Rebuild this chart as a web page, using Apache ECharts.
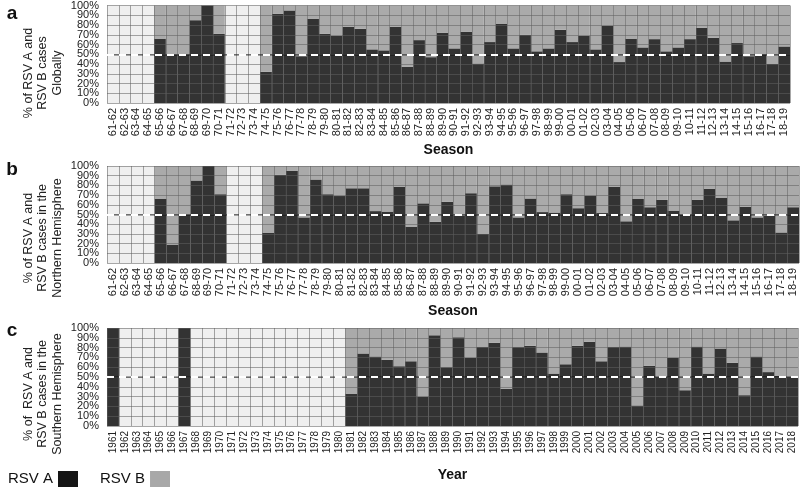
<!DOCTYPE html>
<html>
<head>
<meta charset="utf-8">
<script src="https://cdn.jsdelivr.net/npm/echarts@6/dist/echarts.min.js"></script>
<style>html,body{margin:0;padding:0;background:#fff}#c{width:800px;height:492px}</style>
</head>
<body>
<div id="c"></div>
<script>
// Categories
var seasons = ['61-62','62-63','63-64','64-65','65-66','66-67','67-68','68-69','69-70','70-71','71-72','72-73','73-74','74-75','75-76','76-77','77-78','78-79','79-80','80-81','81-82','82-83','83-84','84-85','85-86','86-87','87-88','88-89','89-90','90-91','91-92','92-93','93-94','94-95','95-96','96-97','97-98','98-99','99-00','00-01','01-02','02-03','03-04','04-05','05-06','06-07','07-08','08-09','09-10','10-11','11-12','12-13','13-14','14-15','15-16','16-17','17-18','18-19'];
var years = [];
for (var y = 1961; y <= 2018; y++) years.push(String(y));

// % RSV A (null = no data); RSV B is the remaining share of 100%
var globalA = [null,null,null,null,66,50,50,85,100,71,null,null,null,32,91.5,95,48,86.5,71,69,78,76,55,54,78,37,64.5,47,72,56,73,40.5,62.5,81,56,70,53,56,75,62.5,69,55,79,42,66,57,65.5,53,57,65.5,77,67,42.5,61.5,48,50,40,58];
var northA = [null,null,null,null,66,19,49.5,85,100,71,null,null,null,31,91,95,47,86,71,69,77,77,53.5,53,78.5,37.5,61.5,42.5,63,49,72,30,79,81,47,66.5,52.5,52,71,56.5,69.5,51.5,78.5,43,66,57.5,65,54,49.5,65,76.5,67,44,58,47,48.5,31.5,57.5];
var southA = [100,null,null,null,null,null,100,null,null,null,null,null,null,null,null,null,null,null,null,null,33,74,71,67.5,61,66,30,92.5,60,90.5,69.5,80.5,85,38,80.5,82,75,53.5,63,82,86,66,80.5,81,21,61.5,50,69.5,36.5,81,53.5,79,64.5,31.5,71,55,51,50];

var yTicks = [0,10,20,30,40,50,60,70,80,90,100];
var yMin = yTicks[0], yMax = yTicks[yTicks.length-1];

function comp(arr){ return arr.map(function(v){ return v == null ? null : 100 - v; }); }

var FONT = 'Liberation Sans, Arial, sans-serif';
var gridLine = {show:true, lineStyle:{color:'rgba(95,95,95,0.55)', width:1}};

var grids = [
  {left:107, right:10, top:4, height:99},
  {left:107, right:1, top:166, height:97},
  {left:107, right:2, top:328, height:98}
];
var cats = [seasons, seasons, years];
var names = ['Season','Season','Year'];
var dataA = [globalA, northA, southA];
var labelSize = [11, 11, 10];

var yAxes = [];
// main axes: inner tick labels + split lines
cats.forEach(function(c,i){
  yAxes.push({
    type:'value', gridIndex:i, min:yMin, max:yMax, interval:yTicks[1]-yTicks[0], z:3,
    axisLine:{show:false}, axisTick:{show:false},
    axisLabel:{formatter:'{value}%', margin:8, fontSize:11, color:'#222', fontFamily:FONT},
    splitLine:gridLine
  });
});
// companion axes: only end labels (0% and 100%)
cats.forEach(function(c,i){
  yAxes.push({
    type:'value', gridIndex:i, position:'left', min:yMin, max:yMax, interval:yTicks[1]-yTicks[0], z:3,
    axisLine:{show:false}, axisTick:{show:false}, splitLine:{show:false},
    axisLabel:{margin:8, fontSize:11, color:'#222', fontFamily:FONT, showMinLabel:true, showMaxLabel:true,
      formatter:function(v){ return (v === yMin || v === yMax) ? v + '%' : ''; }}
  });
});

var option = {
  animation:false,
  textStyle:{fontFamily:FONT},
  grid: grids.map(function(g){ return Object.assign({show:true, backgroundColor:'#efefef', borderWidth:0}, g); }),
  xAxis: cats.map(function(c,i){ return {
    type:'category', gridIndex:i, data:c, z:3,
    boundaryGap:true,
    axisLine:{show:false}, axisTick:{show:false},
    axisLabel:{interval:0, rotate:90, margin:5, fontSize:labelSize[i], color:'#222', fontFamily:FONT},
    splitLine:Object.assign({interval:0}, gridLine),
    name:names[i], nameLocation:'middle', nameGap:[40,41,42][i],
    nameTextStyle:{fontSize:14, fontWeight:'bold', color:'#111', fontFamily:FONT, verticalAlign:'top'}
  }; }),
  yAxis: yAxes,
  legend:{
    left:3, top:466, padding:[5,5,5,5], align:'right', itemWidth:20, itemHeight:16, itemGap:22, icon:'rect',
    textStyle:{fontSize:15, color:'#111', fontFamily:FONT},
    selectedMode:false,
    data:[{name:'RSV A', itemStyle:{color:'#151515'}}, {name:'RSV B', itemStyle:{color:'#a8a8a8'}}]
  },
  graphic: [
    {type:'text', x:12, y:14, style:{text:'a', fontSize:19, fontWeight:'bold', fontFamily:FONT, fill:'#111', align:'center', verticalAlign:'middle'}},
    {type:'text', x:12, y:170, style:{text:'b', fontSize:19, fontWeight:'bold', fontFamily:FONT, fill:'#111', align:'center', verticalAlign:'middle'}},
    {type:'text', x:12, y:331, style:{text:'c', fontSize:19, fontWeight:'bold', fontFamily:FONT, fill:'#111', align:'center', verticalAlign:'middle'}},
    {type:'text', x:43, y:73, rotation:Math.PI/2, style:{text:'% of RSV A and\nRSV B cases\nGlobally', fontSize:12.5, lineHeight:14.5, fontFamily:FONT, fill:'#222', align:'center', verticalAlign:'middle'}},
    {type:'text', x:43, y:238, rotation:Math.PI/2, style:{text:'% of RSV A and\nRSV B cases in the\nNorthern Hemisphere', fontSize:12.5, lineHeight:14.5, fontFamily:FONT, fill:'#222', align:'center', verticalAlign:'middle'}},
    {type:'text', x:43, y:394, rotation:Math.PI/2, style:{text:'% of  RSV A and\nRSV B cases in the\nSouthern Hemisphere', fontSize:12.5, lineHeight:14.5, fontFamily:FONT, fill:'#222', align:'center', verticalAlign:'middle'}}
  ],
  series: []
};

dataA.forEach(function(a,i){
  option.series.push({
    name:'RSV A', type:'bar', stack:'s'+i, xAxisIndex:i, yAxisIndex:i, data:a,
    barCategoryGap:'0%', itemStyle:{color:'#333333'}, silent:true,
    markLine:{silent:true, symbol:['none','none'], label:{show:false}, z:5,
      lineStyle:{color:'rgba(0,0,0,0.42)', width:1.5, type:'solid'}, data:[{yAxis:50}]}
  });
  option.series.push({
    name:'RSV B', type:'bar', stack:'s'+i, xAxisIndex:i, yAxisIndex:i, data:comp(a),
    barCategoryGap:'0%', itemStyle:{color:'#aaaaaa'}, silent:true,
    markLine:{silent:true, symbol:['none','none'], label:{show:false}, z:6,
      lineStyle:{color:'#ffffff', width:2, type:[7,5]}, data:[{yAxis:50}]}
  });
});

var chart = echarts.init(document.getElementById('c'), null, {renderer:'canvas'});
chart.setOption(option);
</script>
</body>
</html>
